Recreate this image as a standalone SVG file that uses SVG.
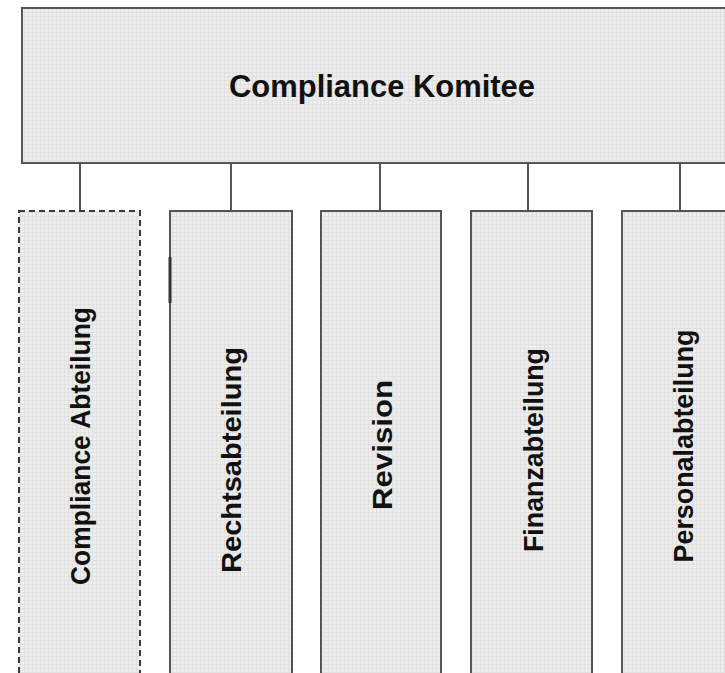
<svg xmlns="http://www.w3.org/2000/svg" width="725" height="673" viewBox="0 0 725 673">
  <defs>
    <!-- fine grid texture used as box fill -->
    <pattern id="grid" width="4" height="4" patternUnits="userSpaceOnUse">
      <rect width="4" height="4" fill="#ededed"/>
      <path d="M0 0.5H4M0.5 0V4" stroke="#e1e1e1" stroke-width="1"/>
    </pattern>
    <style>
      .box { fill: url(#grid); stroke: #555; stroke-width: 2; }
      .dashed { stroke: #3a3a3a; stroke-dasharray: 6 4; }
      .conn { stroke: #555; stroke-width: 2; fill: none; }
      .lbl { font-family: "Liberation Sans", Arial, sans-serif; font-weight: bold; fill: #111; }
      .vlbl { font-size: 28px; text-anchor: middle; }
    </style>
  </defs>
  <rect width="725" height="673" fill="#ffffff"/>

  <!-- top level -->
  <g id="compliance-komitee">
    <rect class="box" x="22" y="8" width="720" height="155"/>
    <text class="lbl" x="382" y="97" font-size="31" text-anchor="middle" textLength="306" lengthAdjust="spacingAndGlyphs">Compliance Komitee</text>
  </g>

  <!-- connectors from the committee down to each department -->
  <g id="connectors">
    <line class="conn" x1="80" y1="163" x2="80" y2="211"/>
    <line class="conn" x1="231" y1="163" x2="231" y2="211"/>
    <line class="conn" x1="380" y1="163" x2="380" y2="211"/>
    <line class="conn" x1="528" y1="163" x2="528" y2="211"/>
    <line class="conn" x1="680" y1="163" x2="680" y2="211"/>
  </g>

  <g id="compliance-abteilung">
    <rect class="box dashed" x="19" y="211" width="121" height="480"/>
    <text class="lbl vlbl" transform="translate(90 446) rotate(-90)" textLength="278" lengthAdjust="spacingAndGlyphs">Compliance Abteilung</text>
  </g>

  <g id="rechtsabteilung">
    <rect class="box" x="170" y="211" width="122" height="480"/>
    <line x1="170" y1="257" x2="170" y2="303" stroke="#333" stroke-width="3"/>
    <text class="lbl vlbl" transform="translate(241 460) rotate(-90)" textLength="226" lengthAdjust="spacingAndGlyphs">Rechtsabteilung</text>
  </g>

  <g id="revision">
    <rect class="box" x="321" y="211" width="120" height="480"/>
    <text class="lbl vlbl" transform="translate(392 445) rotate(-90)" textLength="130" lengthAdjust="spacingAndGlyphs">Revision</text>
  </g>

  <g id="finanzabteilung">
    <rect class="box" x="471" y="211" width="121" height="480"/>
    <text class="lbl vlbl" transform="translate(543 450) rotate(-90)" textLength="204" lengthAdjust="spacingAndGlyphs">Finanzabteilung</text>
  </g>

  <g id="personalabteilung">
    <rect class="box" x="622" y="211" width="120" height="480"/>
    <text class="lbl vlbl" transform="translate(693 446) rotate(-90)" textLength="233" lengthAdjust="spacingAndGlyphs">Personalabteilung</text>
  </g>
</svg>
